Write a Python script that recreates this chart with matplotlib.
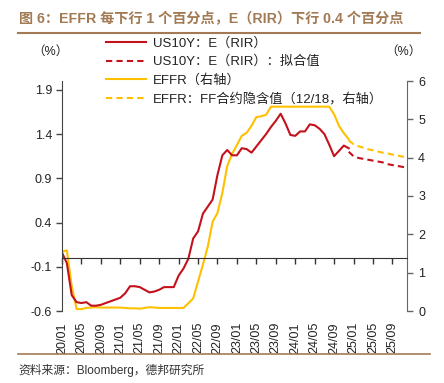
import matplotlib
matplotlib.use('Agg')
import matplotlib.pyplot as plt
from matplotlib.lines import Line2D
import numpy as np

plt.rcParams['font.family'] = ['Liberation Sans', 'Noto Sans CJK SC', 'DejaVu Sans']

months = [f"{y % 100:02d}/{m:02d}" for y in range(2020, 2026) for m in range(1, 13)]

# US10Y: E(RIR), left axis, 2020/01 - 2024/12
rir = [0.06, -0.06, -0.42, -0.50, -0.51, -0.50, -0.54, -0.54, -0.53, -0.51, -0.49, -0.47,
       -0.45, -0.40, -0.32, -0.32, -0.33, -0.36, -0.39, -0.38, -0.36, -0.33, -0.33, -0.33,
       -0.20, -0.12, -0.01, 0.22, 0.30, 0.50, 0.58, 0.66, 0.94, 1.16, 1.22, 1.16,
       1.16, 1.24, 1.23, 1.19, 1.26, 1.33, 1.40, 1.48, 1.55, 1.63, 1.52, 1.39,
       1.38, 1.43, 1.43, 1.51, 1.50, 1.46, 1.40, 1.28, 1.15, 1.21, 1.27, 1.24]
# US10Y: E(RIR) fitted, 2024/12 - 2025/12
rir_fit = [1.20, 1.15, 1.13, 1.12, 1.11, 1.10, 1.09, 1.08, 1.06, 1.05, 1.04, 1.03, 1.02]
# EFFR, right axis, 2020/01 - 2024/12
effr = [1.55, 1.58, 0.65, 0.05, 0.05, 0.08, 0.09, 0.10, 0.09, 0.09, 0.09, 0.09,
        0.09, 0.08, 0.07, 0.07, 0.06, 0.08, 0.10, 0.09, 0.08, 0.08, 0.08, 0.08,
        0.08, 0.08, 0.20, 0.33, 0.77, 1.21, 1.68, 2.33, 2.56, 3.08, 3.78, 4.10,
        4.33, 4.57, 4.65, 4.83, 5.06, 5.08, 5.12, 5.33, 5.33, 5.33, 5.33, 5.33,
        5.33, 5.33, 5.33, 5.33, 5.33, 5.33, 5.33, 5.33, 5.13, 4.83, 4.64, 4.48]
# EFFR: FF futures implied, 2024/12 - 2025/12
effr_ff = [4.45, 4.35, 4.30, 4.26, 4.22, 4.19, 4.16, 4.13, 4.11, 4.08, 4.06, 4.03, 4.01]

left_ticks = [-0.6, -0.1, 0.4, 0.9, 1.4, 1.9]
right_ticks = [0, 1, 2, 3, 4, 5, 6]

labels = ["US10Y：E（RIR）", "US10Y：E（RIR）：拟合值", "EFFR（右轴）",
          "EFFR：FF合约隐含值（12/18，右轴）"]
title = "图 6：EFFR 每下行 1 个百分点，E（RIR）下行 0.4 个百分点"
source = "资料来源：Bloomberg，德邦研究所"

RED = '#C4121C'
YEL = '#FFC000'
BROWN = '#A27B55'
DASH = (0, (3, 2))

W, H = 444, 383
fig = plt.figure(figsize=(W / 100, H / 100), dpi=100)
ax = fig.add_axes([62 / W, 1 - 311 / H, (407 - 62) / W, 230 / H])
ax.patch.set_visible(False)
x = np.arange(len(months))
n = len(rir)
l1, = ax.plot(x[:n], rir, color=RED, lw=1.5)
l2, = ax.plot(x[n - 1:], rir_fit, color=RED, lw=1.5, ls=DASH)
ax2 = ax.twinx()
l3, = ax2.plot(x[:n], effr, color=YEL, lw=1.5)
l4, = ax2.plot(x[n - 1:], effr_ff, color=YEL, lw=1.5, ls=DASH)
ax.set_zorder(ax2.get_zorder() + 1)

ax.set_xlim(0, len(months) - 1)
ax.set_ylim(-0.6, 2.0)
ax.set_yticks(left_ticks)
ax.set_yticklabels([f"{v:.1f}" for v in left_ticks])
ax2.set_ylim(0, 6)
ax2.set_yticks(right_ticks)

for s in ['top', 'right']:
    ax.spines[s].set_visible(False)
ax.spines['bottom'].set_position(('data', 0))
ax.spines['bottom'].set_color('#333333')
ax.spines['left'].set_color('#444444')
for s in ['top', 'left', 'bottom']:
    ax2.spines[s].set_visible(False)
ax2.spines['right'].set_color('#666666')

ax.set_xticks(x[::4])
ax.tick_params(axis='x', direction='out', length=4, width=1, color='#333333', labelbottom=False)
ax.tick_params(axis='y', direction='out', length=4, width=1, color='#444444',
               labelsize=9, pad=3, labelcolor='#222222')
ax2.tick_params(axis='y', direction='out', length=4, width=1, color='#666666',
                labelsize=9, pad=4, labelcolor='#222222')

sec = ax.secondary_xaxis('bottom')
sec.set_xticks(x[::4], labels=months[::4])
sec.tick_params(length=0, rotation=90, labelsize=9, pad=8, labelcolor='#222222')
sec.spines['bottom'].set_visible(False)

fig.text(50 / W, 1 - 52 / H, "（%）", ha='center', va='center', fontsize=9, color='#222222')
fig.text(403 / W, 1 - 52 / H, "（%）", ha='center', va='center', fontsize=9, color='#222222')

leg = fig.legend([l1, l2, l3, l4], labels, loc='upper left',
                 bbox_to_anchor=(106 / W, 1 - 37 / H), bbox_transform=fig.transFigure,
                 frameon=False, fontsize=9.5, handlelength=3.0, handletextpad=0.55,
                 labelspacing=0.46, borderpad=0, borderaxespad=0)
for t in leg.get_texts():
    t.set_color('#222222')

fig.text(19 / W, 1 - 19 / H, title, ha='left', va='center', fontsize=10.2,
         fontweight='bold', color=BROWN)
fig.add_artist(Line2D([18 / W, 420 / W], [1 - 33 / H] * 2, transform=fig.transFigure,
                      color=BROWN, lw=1.5))
fig.add_artist(Line2D([18 / W, 430 / W], [1 - 354 / H] * 2, transform=fig.transFigure,
                      color=BROWN, lw=1.2))
fig.text(18 / W, 1 - 370 / H, source, ha='left', va='center', fontsize=8.5, color='#333333')

fig.savefig('out.png', dpi=100)
